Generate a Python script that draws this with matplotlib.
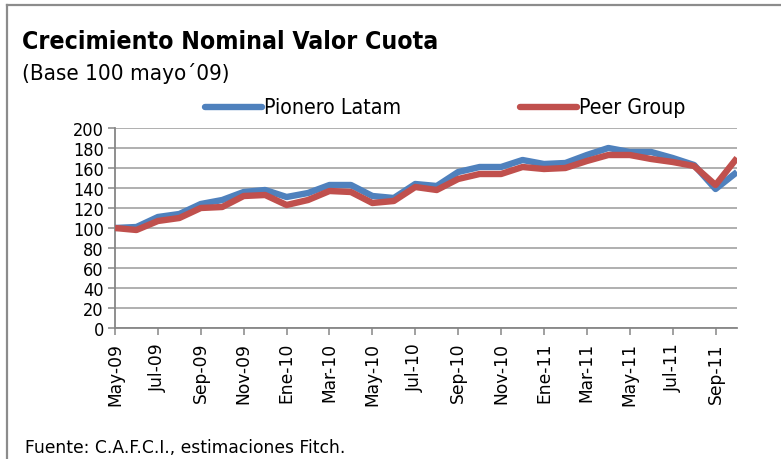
import matplotlib
matplotlib.use("Agg")
import matplotlib.pyplot as plt
from matplotlib.lines import Line2D

months = ["May-09", "Jun-09", "Jul-09", "Ago-09", "Sep-09", "Oct-09", "Nov-09", "Dic-09",
          "Ene-10", "Feb-10", "Mar-10", "Abr-10", "May-10", "Jun-10", "Jul-10", "Ago-10",
          "Sep-10", "Oct-10", "Nov-10", "Dic-10", "Ene-11", "Feb-11", "Mar-11", "Abr-11",
          "May-11", "Jun-11", "Jul-11", "Ago-11", "Sep-11", "Oct-11"]
pionero = [100, 101, 111, 114, 124, 128, 136, 138, 131, 135,
           143, 143, 132, 130, 144, 142, 156, 161, 161, 168,
           164, 165, 173, 180, 176, 176, 170, 163, 139, 156]
peer = [100, 98, 107, 110, 120, 121, 132, 133, 123, 128,
        137, 136, 125, 127, 141, 138, 149, 154, 154, 161,
        159, 160, 167, 173, 173, 169, 166, 162, 143, 170]
yticks = list(range(0, 201, 20))

FONT = ["DejaVu Sans"]
W, H = 781, 460
fig = plt.figure(figsize=(W / 100, H / 100), dpi=100)

ax = fig.add_axes([115 / W, 1 - 329 / H, (737 - 115) / W, (329 - 129) / H])
x = list(range(len(months)))
ax.plot(x, pionero, color="#4F81BD", lw=4.6, solid_joinstyle="round", solid_capstyle="butt", zorder=3)
ax.plot(x, peer, color="#C0504D", lw=4.6, solid_joinstyle="round", solid_capstyle="butt", zorder=4)

ax.set_xlim(0, len(months) - 1)
ax.set_ylim(0, 200)
ax.set_yticks(yticks)
ax.set_yticklabels([str(v) for v in yticks], fontsize=13, family=FONT, stretch="condensed")
ax.set_xticks(x[::2])
ax.set_xticklabels(months[::2], rotation=90, fontsize=12.3, family=FONT)
ax.grid(axis="y", color="#9a9a9a", lw=1.1, zorder=1)
ax.set_axisbelow(True)
for s in ["top", "right"]:
    ax.spines[s].set_visible(False)
for s in ["left", "bottom"]:
    ax.spines[s].set_color("#868686")
    ax.spines[s].set_linewidth(1.3)
ax.tick_params(axis="both", direction="out", length=5, width=1.1, color="#868686")
ax.tick_params(axis="x", pad=5)
ax.tick_params(axis="y", pad=3)

fig.text(22 / W, 1 - 42 / H, "Crecimiento Nominal Valor Cuota", fontsize=17.8, fontweight="bold",
         family=FONT, stretch="condensed", va="center", ha="left")
fig.text(22 / W, 1 - 74 / H, "(Base 100 mayo\u00b409)", fontsize=16, family=FONT,
         stretch="condensed", va="center", ha="left")
fig.text(25 / W, 1 - 448 / H, "Fuente: C.A.F.C.I., estimaciones Fitch.", fontsize=12.3,
         family=FONT, va="center", ha="left")

# legend
for (x0, label, col) in [(205, "Pionero Latam", "#4F81BD"), (520, "Peer Group", "#C0504D")]:
    fig.add_artist(Line2D([x0 / W, (x0 + 57) / W], [1 - 108 / H, 1 - 108 / H], color=col, lw=4.6,
                          solid_capstyle="round", transform=fig.transFigure))
    fig.text((x0 + 59) / W, 1 - 108 / H, label, fontsize=15.3, family=FONT, stretch="condensed",
             va="center", ha="left")

# frame (top and left edges)
fig.add_artist(Line2D([7 / W, 1], [1 - 5.5 / H, 1 - 5.5 / H], color="#8c8c8c", lw=1.6, transform=fig.transFigure))
fig.add_artist(Line2D([7 / W, 7 / W], [0, 1 - 5.5 / H], color="#8c8c8c", lw=1.6, transform=fig.transFigure))

fig.savefig("out.png", dpi=100)
